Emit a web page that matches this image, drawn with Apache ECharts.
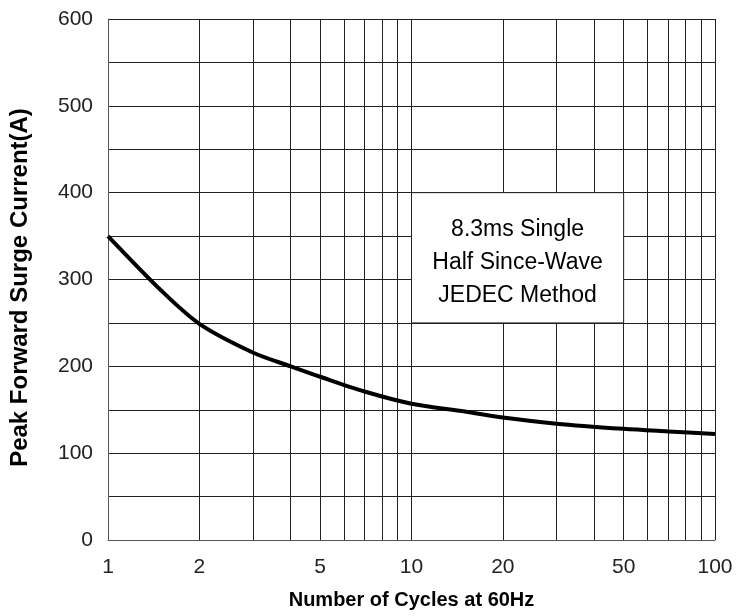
<!DOCTYPE html>
<html>
<head>
<meta charset="utf-8">
<script src="https://cdn.jsdelivr.net/npm/echarts@6/dist/echarts.min.js"></script>
<style>
html, body { margin: 0; padding: 0; background: #fff; }
#chart { width: 748px; height: 616px; }
</style>
</head>
<body>
<div id="chart"></div>
<script>
// surge current vs number of cycles
const cycles = [1, 1.5, 2, 3, 4, 5, 7, 10, 15, 20, 30, 50, 70, 100]
const current = [350, 287, 249, 216, 200, 188, 171, 157, 148, 141, 134, 128, 125, 122]

const xGridValues = [1, 2, 3, 4, 5, 6, 7, 8, 9, 10, 20, 30, 40, 50, 60, 70, 80, 90, 100]
const xLabelValues = [1, 2, 5, 10, 20, 50, 100]
const yLabelStep = 100

const noteText = ['8.3ms Single', 'Half Since-Wave', 'JEDEC Method']
const noteBox = [[10, 400], [50, 250]]

const font = "'Liberation Sans Narrow', 'Liberation Sans', Arial, sans-serif"

const chart = echarts.init(document.getElementById('chart'))
const option = {
    animation: false,
    backgroundColor: '#fff',
    grid: {
        left: 108,
        right: 33,
        top: 19,
        bottom: 76,
    },
    xAxis: {
        type: 'log',
        logBase: 10,
        min: 1,
        max: 100,
        name: 'Number of Cycles at 60Hz',
        nameLocation: 'middle',
        nameGap: 50,
        nameTextStyle: { fontFamily: font, fontWeight: 'bold', fontSize: 20, color: '#000' },
        axisLine: { show: true, lineStyle: { color: '#555', width: 1 } },
        axisTick: { show: false, customValues: xGridValues },
        axisLabel: {
            customValues: xLabelValues,
            margin: 17,
            fontFamily: font,
            fontSize: 21,
            color: '#222',
        },
        splitLine: { show: true, lineStyle: { color: '#222', width: 1 } },
        minorTick: { show: false },
        minorSplitLine: { show: false },
    },
    yAxis: {
        type: 'value',
        min: 0,
        max: 600,
        interval: 50,
        name: 'Peak Forward Surge Current(A)',
        nameLocation: 'middle',
        nameGap: 76,
        nameTextStyle: { fontFamily: font, fontWeight: 'bold', fontSize: 24, color: '#000', padding: [0, 16, 0, 0] },
        axisLine: { show: true, lineStyle: { color: '#555', width: 1 } },
        axisTick: { show: false },
        axisLabel: {
            margin: 15,
            fontFamily: font,
            fontSize: 21,
            color: '#222',
            formatter: (v) => (v % yLabelStep === 0 ? String(v) : ''),
        },
        splitLine: { show: true, lineStyle: { color: '#222', width: 1 } },
    },
    series: [
        {
            type: 'line',
            data: cycles.map((c, i) => [c, current[i]]),
            smooth: 0.3,
            showSymbol: false,
            lineStyle: { color: '#000', width: 4 },
            markArea: {
                silent: true,
                itemStyle: { color: '#fff', opacity: 1, borderColor: '#222', borderWidth: 1 },
                label: {
                    show: true,
                    position: 'inside',
                    offset: [0, 5],
                    formatter: noteText.join('\n'),
                    fontFamily: font,
                    fontSize: 23,
                    lineHeight: 33,
                    color: '#000',
                    align: 'center',
                },
                data: [[{ coord: noteBox[0] }, { coord: noteBox[1] }]],
            },
        },
    ],
}
chart.setOption(option)
</script>
</body>
</html>
